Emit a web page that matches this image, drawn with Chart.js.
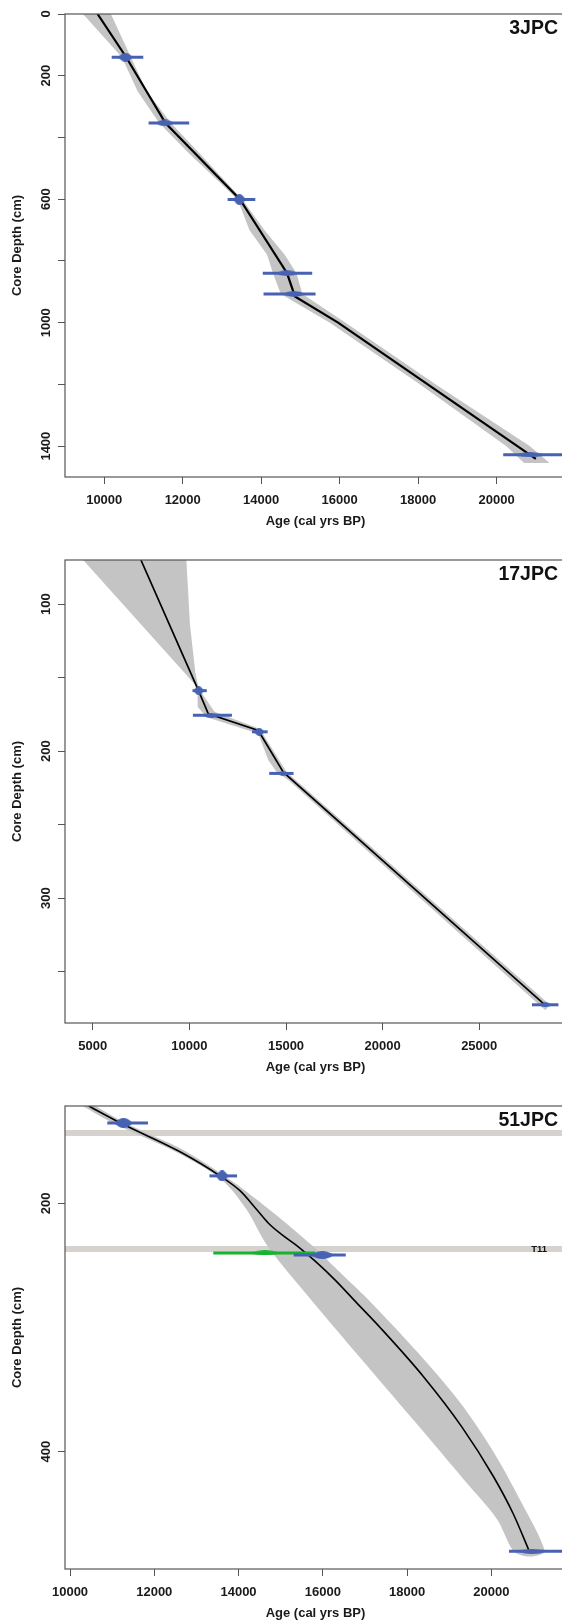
<!DOCTYPE html>
<html>
<head>
<meta charset="utf-8">
<script src="https://cdn.jsdelivr.net/npm/chart.js@4.4.1/dist/chart.umd.min.js"></script>
<style>
  html, body { margin: 0; padding: 0; background: #fff; width: 562px; height: 1620px; overflow: hidden; position: relative; }
  canvas { position: absolute; left: 0; }
</style>
</head>
<body>
<canvas id="c1" width="570" height="546" style="top:0px;width:570px;height:546px"></canvas>
<canvas id="c2" width="570" height="546" style="top:546px;width:570px;height:546px"></canvas>
<canvas id="c3" width="570" height="546" style="top:1092px;width:570px;height:546px"></canvas>
<script>
// ---------- 3JPC ----------
const p1DateDepth = [140, 353, 601, 840, 907, 1428];
const p1DateAge = [10540, 11545, 13446, 14653, 14836, 20860];
const p1DateMin = [10190, 11130, 13145, 14040, 14060, 20168];
const p1DateMax = [10995, 12165, 13850, 15300, 15385, 22400];
const p1ModelDepth = [0, 140, 353, 601, 840, 915, 1000, 1441];
const p1ModelAge = [9830, 10560, 11560, 13460, 14660, 14860, 15960, 21000];
const p1LoDepth = [0, 140, 250, 353, 450, 601, 700, 780, 840, 907, 1000, 1200, 1400, 1455];
const p1LoAge = [9460, 10450, 10850, 11400, 12150, 13400, 13700, 14150, 14300, 14500, 15750, 18050, 20250, 20700];
const p1HiDepth = [0, 140, 250, 353, 450, 601, 700, 780, 840, 907, 1000, 1200, 1400, 1455];
const p1HiAge = [10170, 10680, 11080, 11700, 12420, 13520, 14080, 14600, 14900, 15050, 16150, 18450, 20850, 21350];
const p1XTicks = [10000, 12000, 14000, 16000, 18000, 20000];
const p1YTicks = [0, 200, 400, 600, 800, 1000, 1200, 1400];
const p1YLabels = [0, 200, 600, 1000, 1400];

// ---------- 17JPC ----------
const p2DateDepth = [158.9, 175.7, 186.9, 215.2, 372.6];
const p2DateAge = [10480, 11140, 13610, 14850, 28430];
const p2DateMin = [10160, 10180, 13240, 14130, 27730];
const p2DateMax = [10900, 12200, 14050, 15390, 29100];
const p2ModelDepth = [70, 158.9, 174.7, 186, 214.3, 372.6];
const p2ModelAge = [7490, 10470, 10978, 13566, 14860, 28400];
const p2LoDepth = [70, 155.8, 158.9, 170, 177, 188, 206, 214, 220, 372.6, 376];
const p2LoAge = [4500, 10360, 10420, 10430, 10900, 13560, 14080, 14500, 15150, 28100, 28400];
const p2HiDepth = [70, 113.8, 146.5, 155.8, 158.9, 173.2, 184.5, 186.5, 214, 372.6, 376];
const p2HiAge = [9842, 10028, 10306, 10455, 10560, 11300, 13560, 13720, 15020, 28650, 28450];
const p2XTicks = [5000, 10000, 15000, 20000, 25000];
const p2YTicks = [100, 150, 200, 250, 300, 350];
const p2YLabels = [100, 200, 300];

// ---------- 51JPC ----------
const p3DateDepth = [135.3, 177.9, 241.7, 480.2];
const p3DateAge = [11270, 13610, 15990, 20970];
const p3DateMin = [10885, 13310, 15310, 20420];
const p3DateMax = [11850, 13965, 16545, 22300];
const p3AltDepth = [239.9];
const p3AltAge = [14630];
const p3AltMin = [13400];
const p3AltMax = [15820];
const p3ModelDepth = [121.6, 135.3, 158.3, 177.9, 190, 205, 216, 225, 235, 246, 262, 280, 300, 340, 380, 420, 450, 481.6];
const p3ModelAge = [10443, 11200, 12600, 13560, 14040, 14430, 14710, 15020, 15420, 15800, 16300, 16800, 17360, 18400, 19300, 20050, 20520, 20919];
const p3LoDepth = [121.6, 135, 159, 181, 205, 235, 280, 330, 380, 422, 454, 480, 484];
const p3LoAge = [10300, 11000, 12540, 13600, 14190, 14700, 15780, 17030, 18290, 19335, 20128, 20522, 20780];
const p3HiDepth = [121.6, 135, 157, 181, 197, 218, 235, 256, 280, 320, 360, 400, 440, 480, 484];
const p3HiAge = [10600, 11300, 12690, 13800, 14430, 15200, 15780, 16420, 17150, 18250, 19250, 20050, 20700, 21270, 21050];
const p3LayerDepth = [143.3, 236.8];
const p3LayerLabel = ['', 'T11'];
const p3XTicks = [10000, 12000, 14000, 16000, 18000, 20000];
const p3YTicks = [200, 400];
const p3YLabels = [200, 400];

const BLUE = '#4762b3';
const GREEN = '#14b42d';
const GREY = '#c4c4c4';
const LAYER = '#d6d3cf';
const AXIS = '#555';

Chart.defaults.font.family = '"Liberation Sans", Arial, sans-serif';
Chart.defaults.color = '#1a1a1a';

function pts(xs, ys) {
  return xs.map((x, i) => ({x: x, y: ys[i]}));
}

// lens shaped marker for the mode of a calibrated date
const lensCache = {};
function lens(w, h, color) {
  const key = w + 'x' + h + color;
  if (lensCache[key]) return lensCache[key];
  const c = document.createElement('canvas');
  c.width = w;
  c.height = h;
  const g = c.getContext('2d');
  g.fillStyle = color;
  g.beginPath();
  g.moveTo(0, h / 2);
  g.quadraticCurveTo(w / 2, -h / 2, w, h / 2);
  g.quadraticCurveTo(w / 2, h * 1.5, 0, h / 2);
  g.fill();
  lensCache[key] = c;
  return c;
}

// narrow dates get a taller peak, like a probability curve
function lensStyle(ctx) {
  const raw = ctx.dataset.data;
  const xs = ctx.chart.scales.x;
  const k = ctx.chart.options.plugins.panelText.lensK;
  let spread = 30;
  if (xs && xs.width) {
    spread = Math.abs(xs.getPixelForValue(raw[2].x) - xs.getPixelForValue(raw[0].x));
  }
  const w = Math.round(Math.min(30, Math.max(10, spread * 0.45)));
  const h = Math.round(Math.min(11, Math.max(5, k / spread)));
  return lens(w, h, ctx.dataset.borderColor);
}

// frame around the plot, core name and layer names
const panelText = {
  id: 'panelText',
  afterDatasetsDraw(chart, args, opts) {
    const {ctx, chartArea: a} = chart;
    ctx.save();
    ctx.strokeStyle = AXIS;
    ctx.lineWidth = 1.2;
    ctx.strokeRect(a.left, a.top, a.right - a.left, a.bottom - a.top);
    ctx.fillStyle = '#111';
    ctx.textAlign = 'right';
    ctx.textBaseline = 'middle';
    ctx.font = 'bold 19.5px "Liberation Sans", Arial, sans-serif';
    ctx.fillText(opts.core, a.right - 8, a.top + 15);
    ctx.font = 'bold 9.5px "Liberation Sans", Arial, sans-serif';
    (opts.layerDepth || []).forEach((d, i) => {
      if (opts.layerLabel[i]) {
        ctx.fillText(opts.layerLabel[i], a.right - 19, chart.scales.y.getPixelForValue(d));
      }
    });
    ctx.restore();
  }
};

function dateSets(depth, age, min, max, color) {
  return depth.map((d, i) => ({
    data: [{x: min[i], y: d}, {x: age[i], y: d}, {x: max[i], y: d}],
    showLine: true,
    borderColor: color,
    backgroundColor: color,
    borderWidth: 3,
    pointRadius: [0, 4, 0],
    pointBorderWidth: 0,
    pointStyle: lensStyle,
    clip: 0,
    order: 1
  }));
}

function buildPanel(canvasId, p) {
  let datasets = [];
  p.dates.forEach(dt => {
    datasets = datasets.concat(dateSets(dt.depth, dt.age, dt.min, dt.max, dt.color));
  });

  // age-depth model
  datasets.push({
    data: pts(p.modelAge, p.modelDepth),
    showLine: true,
    borderColor: '#000',
    borderWidth: p.lineWidth,
    pointRadius: 0,
    cubicInterpolationMode: p.smooth ? 'monotone' : 'default',
    tension: 0,
    clip: 0,
    order: 2
  });

  // uncertainty envelope: down the young side, back up the old side
  datasets.push({
    data: pts(p.loAge, p.loDepth).concat(pts(p.hiAge, p.hiDepth).reverse()),
    showLine: true,
    fill: 'shape',
    backgroundColor: GREY,
    borderColor: 'rgba(0,0,0,0)',
    borderWidth: 0,
    pointRadius: 0,
    tension: p.smooth ? 0.3 : 0,
    clip: 0,
    order: 4
  });

  // event layers across the whole panel
  (p.layerDepth || []).forEach(d => {
    datasets.push({
      data: [{x: p.xMin, y: d}, {x: p.xMax, y: d}],
      showLine: true,
      borderColor: LAYER,
      borderWidth: 6,
      pointRadius: 0,
      clip: 0,
      order: 6
    });
  });

  return new Chart(document.getElementById(canvasId), {
    type: 'scatter',
    data: { datasets: datasets },
    options: {
      responsive: false,
      animation: false,
      events: [],
      layout: { padding: { left: 0, top: 14, right: 4, bottom: 0 } },
      plugins: {
        legend: { display: false },
        tooltip: { enabled: false },
        panelText: { core: p.core, layerDepth: p.layerDepth, layerLabel: p.layerLabel, lensK: p.lensK }
      },
      scales: {
        x: {
          type: 'linear',
          min: p.xMin,
          max: p.xMax,
          afterBuildTicks: s => { s.ticks = p.xTicks.map(v => ({value: v})); },
          afterFit: s => { s.height = 69; },
          ticks: { callback: v => String(v), font: { size: 13, weight: 'bold' }, padding: 8.2, autoSkip: false, maxRotation: 0 },
          grid: { drawOnChartArea: false, tickLength: 7, color: AXIS },
          border: { display: false },
          title: { display: true, text: 'Age (cal yrs BP)', font: { size: 13, weight: 'bold' }, padding: { top: 0, bottom: 17.2 } }
        },
        y: {
          type: 'linear',
          reverse: true,
          min: p.yMin,
          max: p.yMax,
          afterBuildTicks: s => { s.ticks = p.yTicks.map(v => ({value: v})); },
          afterFit: s => { s.width = 65; },
          ticks: {
            callback: v => p.yLabels.includes(v) ? String(v) : '',
            font: { size: 13, weight: 'bold' },
            minRotation: 90,
            maxRotation: 90,
            crossAlign: 'center',
            padding: p.yPad,
            autoSkip: false
          },
          grid: { drawOnChartArea: false, tickLength: 7, color: AXIS },
          border: { display: false },
          title: { display: true, text: 'Core Depth (cm)', font: { size: 13, weight: 'bold' }, padding: { top: 10, bottom: 0 } }
        }
      }
    },
    plugins: [panelText]
  });
}

buildPanel('c1', {
  core: '3JPC',
  dates: [{depth: p1DateDepth, age: p1DateAge, min: p1DateMin, max: p1DateMax, color: BLUE}],
  modelAge: p1ModelAge, modelDepth: p1ModelDepth,
  loAge: p1LoAge, loDepth: p1LoDepth, hiAge: p1HiAge, hiDepth: p1HiDepth,
  xMin: 9000, xMax: 21768, yMin: 0, yMax: 1500,
  xTicks: p1XTicks, yTicks: p1YTicks, yLabels: p1YLabels,
  yPad: -2.7, lineWidth: 2.2, smooth: false, lensK: 300
});

buildPanel('c2', {
  core: '17JPC',
  dates: [{depth: p2DateDepth, age: p2DateAge, min: p2DateMin, max: p2DateMax, color: BLUE}],
  modelAge: p2ModelAge, modelDepth: p2ModelDepth,
  loAge: p2LoAge, loDepth: p2LoDepth, hiAge: p2HiAge, hiDepth: p2HiDepth,
  xMin: 3560, xMax: 29492, yMin: 70, yMax: 385,
  xTicks: p2XTicks, yTicks: p2YTicks, yLabels: p2YLabels,
  yPad: 1, lineWidth: 1.7, smooth: false, lensK: 130
});

buildPanel('c3', {
  core: '51JPC',
  dates: [
    {depth: p3DateDepth, age: p3DateAge, min: p3DateMin, max: p3DateMax, color: BLUE},
    {depth: p3AltDepth, age: p3AltAge, min: p3AltMin, max: p3AltMax, color: GREEN}
  ],
  modelAge: p3ModelAge, modelDepth: p3ModelDepth,
  loAge: p3LoAge, loDepth: p3LoDepth, hiAge: p3HiAge, hiDepth: p3HiDepth,
  layerDepth: p3LayerDepth, layerLabel: p3LayerLabel,
  xMin: 9881, xMax: 21773, yMin: 121.6, yMax: 494.5,
  xTicks: p3XTicks, yTicks: p3YTicks, yLabels: p3YLabels,
  yPad: 1, lineWidth: 1.6, smooth: true, lensK: 400
});
</script>
</body>
</html>
